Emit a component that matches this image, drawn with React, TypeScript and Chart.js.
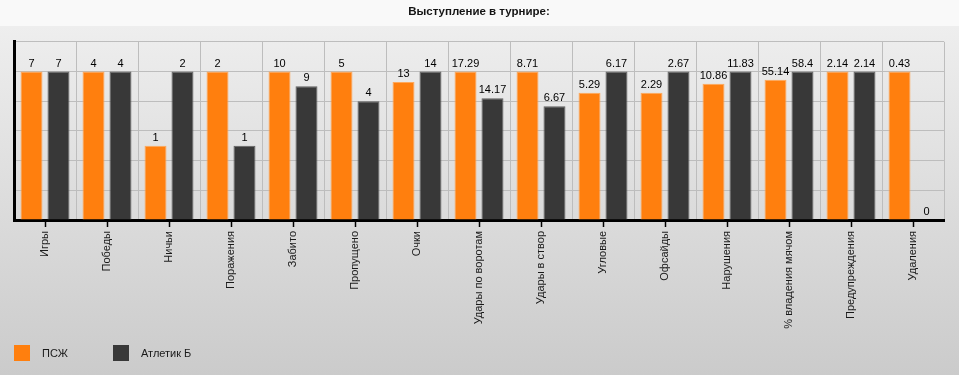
import React, { useEffect, useRef } from "react";
import { Chart, registerables } from "chart.js";

Chart.register(...registerables);

const categories = [
  "Игры",
  "Победы",
  "Ничьи",
  "Поражения",
  "Забито",
  "Пропущено",
  "Очки",
  "Удары по воротам",
  "Удары в створ",
  "Угловые",
  "Офсайды",
  "Нарушения",
  "% владения мячом",
  "Предупреждения",
  "Удаления",
];
const psgValues = [7, 4, 1, 2, 10, 5, 13, 17.29, 8.71, 5.29, 2.29, 10.86, 55.14, 2.14, 0.43];
const athleticValues = [7, 4, 2, 1, 9, 4, 14, 14.17, 6.67, 6.17, 2.67, 11.83, 58.4, 2.14, 0];
const seriesNames = ["ПСЖ", "Атлетик Б"];
const seriesColors = ["#ff7f0e", "#383838"];
const seriesBorders = ["#ffa85a", "#606060"];
const titleText = "Выступление в турнире:";
const yMax = 120;
const yStep = 20;

const FONT = "'Liberation Sans', Arial, sans-serif";

function normalize(values: number[], other: number[]) {
  return values.map((v, i) => {
    const m = Math.max(v, other[i]);
    return m > 0 ? (v / m) * 100 : 0;
  });
}

const valueLabels = {
  id: "valueLabels",
  afterDatasetsDraw(chart: any) {
    const ctx = chart.ctx;
    ctx.save();
    ctx.font = `11px ${FONT}`;
    ctx.fillStyle = "#000";
    ctx.textAlign = "center";
    ctx.textBaseline = "alphabetic";
    chart.data.datasets.forEach((ds: any, di: number) => {
      const meta = chart.getDatasetMeta(di);
      meta.data.forEach((bar: any, i: number) => {
        const raw = ds.rawValues[i];
        ctx.fillText(String(raw), bar.x, bar.y - 5);
      });
    });
    ctx.restore();
  },
};

const centerTicks = {
  id: "centerTicks",
  afterDraw(chart: any) {
    const ctx = chart.ctx;
    const xs = chart.scales.x;
    const bottom = chart.chartArea.bottom;
    ctx.save();
    ctx.strokeStyle = "#000";
    ctx.lineWidth = 1.5;
    categories.forEach((_, i) => {
      const x = Math.round(xs.getPixelForValue(i)) + 0.5;
      ctx.beginPath();
      ctx.moveTo(x, bottom);
      ctx.lineTo(x, bottom + 7);
      ctx.stroke();
    });
    ctx.restore();
  },
};

export default function App() {
  const canvasRef = useRef<HTMLCanvasElement | null>(null);

  useEffect(() => {
    if (!canvasRef.current) return;
    const chart = new Chart(canvasRef.current, {
      type: "bar",
      data: {
        labels: categories,
        datasets: [
          {
            label: seriesNames[0],
            data: normalize(psgValues, athleticValues),
            rawValues: psgValues,
            backgroundColor: seriesColors[0],
            borderColor: seriesBorders[0],
            borderWidth: 1,
            borderSkipped: "bottom",
            categoryPercentage: 0.87,
            barPercentage: 0.815,
          } as any,
          {
            label: seriesNames[1],
            data: normalize(athleticValues, psgValues),
            rawValues: athleticValues,
            backgroundColor: seriesColors[1],
            borderColor: seriesBorders[1],
            borderWidth: 1,
            borderSkipped: "bottom",
            categoryPercentage: 0.87,
            barPercentage: 0.815,
          } as any,
        ],
      },
      options: {
        animation: false,
        responsive: true,
        maintainAspectRatio: false,
        layout: { padding: { left: 14, right: 15, top: 0, bottom: 0 } },
        plugins: {
          legend: { display: false },
          tooltip: { enabled: false },
          title: {
            display: true,
            text: titleText,
            color: "#141414",
            font: { family: FONT, size: 11.5, weight: "bold" },
            padding: { top: 5, bottom: 23 },
          },
        },
        scales: {
          x: {
            offset: true,
            grid: { color: "#bdbdbd", offset: true, drawTicks: false },
            border: { color: "#000", width: 3 },
            ticks: {
              autoSkip: false,
              maxRotation: 90,
              minRotation: 90,
              padding: 11,
              color: "#1a1a1a",
              font: { family: FONT, size: 11 },
            },
            afterFit: (scale: any) => {
              scale.height = 155;
            },
          },
          y: {
            min: 0,
            max: yMax,
            grid: { color: "#bdbdbd", drawTicks: false },
            border: { color: "#000", width: 3 },
            ticks: { display: false, stepSize: yStep },
            afterFit: (scale: any) => {
              scale.width = 0;
            },
          },
        },
      },
      plugins: [valueLabels, centerTicks],
    });
    return () => chart.destroy();
  }, []);

  return (
    <div
      style={{
        position: "absolute",
        left: 0,
        top: 0,
        width: 959,
        height: 375,
        background:
          "linear-gradient(to bottom, #f9f9f9 0px, #f9f9f9 26px, #eeeeee 26px, #cbcbcb 375px)",
        fontFamily: FONT,
      }}
    >
      <canvas ref={canvasRef} style={{ position: "absolute", left: 0, top: 0, width: 959, height: 375 }} />
      {seriesNames.map((name, i) => (
        <div
          key={name}
          style={{
            position: "absolute",
            top: 345,
            left: i === 0 ? 14 : 113,
            height: 16,
            display: "flex",
            alignItems: "center",
          }}
        >
          <div style={{ width: 16, height: 16, background: seriesColors[i] }} />
          <span style={{ marginLeft: 12, fontSize: 11, color: "#1a1a1a", lineHeight: "16px" }}>{name}</span>
        </div>
      ))}
    </div>
  );
}
